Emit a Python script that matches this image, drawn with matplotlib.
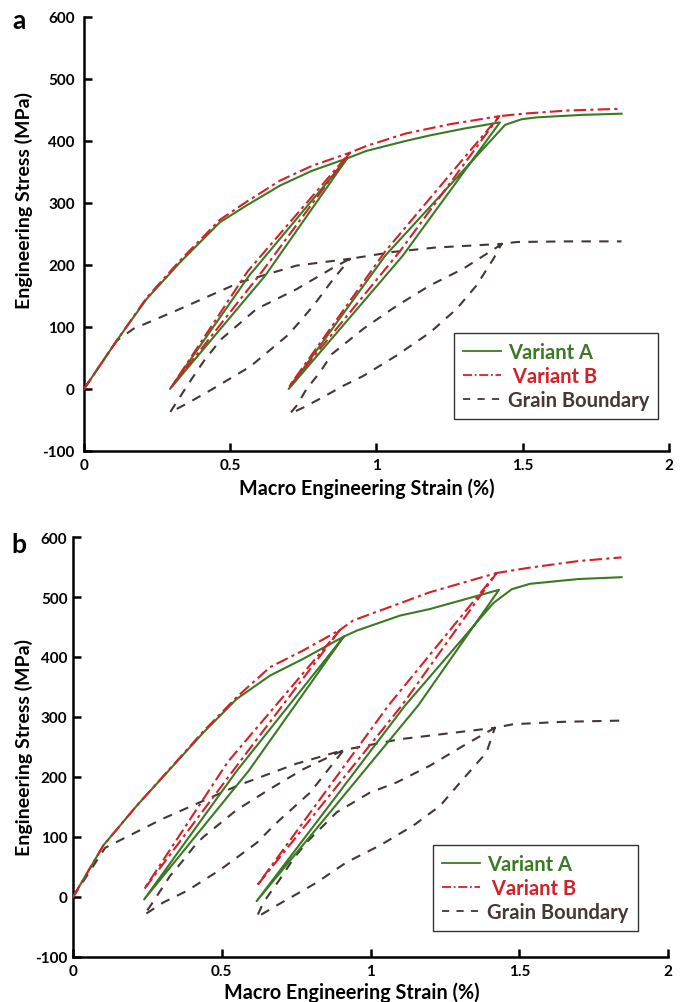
import numpy as np
import matplotlib
matplotlib.use('Agg')
import matplotlib.pyplot as plt
from matplotlib.lines import Line2D

plt.rcParams['font.family'] = ['Lato', 'DejaVu Sans']
plt.rcParams['font.weight'] = 'bold'
plt.rcParams['axes.unicode_minus'] = False

GREEN = '#3a7a22'
RED = '#d42027'
BROWN = '#453733'

# ---------- panel a (strain %, stress MPa) ----------
a_A_x = [0, 0.112, 0.214, 0.328, 0.465, 0.556, 0.67, 0.78, 0.90,
         0.62, 0.294,
         0.565, 0.90,
         0.966, 1.10, 1.183, 1.30, 1.422,
         1.09, 0.70,
         1.03, 1.44,
         1.496, 1.547, 1.70, 1.838]
a_A_y = [0, 78, 145, 204, 269, 296, 328, 352, 372,
         183, 0,
         183, 372,
         384, 400, 409, 420, 430,
         215, 0,
         215, 426,
         435, 438, 442, 444]

a_B_x = [0, 0.112, 0.214, 0.328, 0.465, 0.556, 0.67, 0.78, 0.909,
         0.61, 0.30,
         0.56, 0.909,
         0.966, 1.10, 1.251, 1.42,
         1.08, 0.70,
         1.03, 1.42,
         1.502, 1.65, 1.838]
a_B_y = [0, 78, 147, 207, 273, 302, 336, 360, 381,
         190, 4,
         190, 381,
         392, 412, 427, 440,
         222, 3,
         222, 440,
         444, 449, 452]

a_GB_x = [0, 0.112, 0.169, 0.328, 0.533, 0.727, 0.91,
          0.852, 0.784, 0.70, 0.568, 0.44, 0.362, 0.294,
          0.328, 0.368, 0.414, 0.471, 0.59, 0.727, 0.85, 0.91,
          1.057, 1.20, 1.428,
          1.40, 1.342, 1.274, 1.183, 1.069, 0.955, 0.886, 0.818, 0.75, 0.704,
          0.727, 0.761, 0.807, 0.847, 0.955, 1.069, 1.183, 1.297, 1.41, 1.428,
          1.479, 1.65, 1.838]
a_GB_y = [0, 78, 97, 129, 172, 199, 210,
          177, 134, 88, 36, 0, -21, -38,
          -13, 16, 48, 81, 129, 161, 195, 210,
          221, 228, 234,
          210, 167, 129, 91, 54, 21, 5, -13, -30, -40,
          -27, 0, 27, 56, 97, 134, 167, 194, 228, 234,
          237, 238, 238]

# ---------- panel b ----------
b_A_x = [0, 0.102, 0.214, 0.326, 0.438, 0.55, 0.662, 0.774, 0.91,
         0.59, 0.239,
         0.55, 0.91,
         0.954, 1.099, 1.20, 1.432,
         1.16, 0.617,
         1.116, 1.413,
         1.475, 1.536, 1.70, 1.844]
b_A_y = [0, 86, 152, 213, 274, 330, 369, 397, 434,
         210, -4,
         210, 434,
         444, 469, 480, 512,
         319, -7,
         319, 490,
         513, 522, 530, 533]

b_B_x = [0, 0.102, 0.214, 0.326, 0.438, 0.55, 0.662, 0.774, 0.897,
         0.56, 0.239,
         0.52, 0.897,
         0.942, 1.20, 1.424,
         1.105, 0.617,
         1.06, 1.424,
         1.536, 1.70, 1.844]
b_B_y = [0, 86, 152, 214, 276, 333, 383, 411, 445,
         225, 13,
         225, 445,
         461, 508, 540,
         319, 18,
         319, 540,
         549, 560, 566]

b_GB_x = [0, 0.108, 0.30, 0.55, 0.75, 0.91,
          0.886, 0.797, 0.685, 0.617, 0.494, 0.382, 0.304, 0.239,
          0.264, 0.326, 0.365, 0.41, 0.438, 0.55, 0.662, 0.774, 0.91,
          1.099, 1.20, 1.418,
          1.39, 1.312, 1.234, 1.144, 1.032, 0.92, 0.819, 0.763, 0.685, 0.617,
          0.64, 0.696, 0.74, 0.785, 0.886, 0.998, 1.088, 1.20, 1.312, 1.418,
          1.48, 1.65, 1.844]
b_GB_y = [0, 82, 130, 185, 222, 245,
          230, 174, 124, 90, 45, 10, -9, -30,
          -12, 35, 58, 86, 100, 145, 180, 213, 245,
          263, 269, 282,
          241, 197, 152, 119, 86, 58, 24, 8, -14, -34,
          -9, 30, 63, 91, 141, 174, 191, 219, 252, 282,
          288, 292, 294]

labels = ['Variant A', ' Variant B', 'Grain Boundary']
xticks = [0, 0.5, 1, 1.5, 2]
xticklabels = ['0', '0.5', '1', '1.5', '2']
yticks = [-100, 0, 100, 200, 300, 400, 500, 600]

ls_A = '-'
ls_B = (0, (6, 2, 1.5, 2))
ls_GB = (0, (4.5, 4))

fig = plt.figure(figsize=(6.89, 10.03), dpi=100)
ax_a = fig.add_axes([0.1219, 0.5494, 0.849, 0.4327])
ax_b = fig.add_axes([0.1060, 0.0449, 0.8635, 0.4187])

# axes, data, panel tag position, legend anchor, ylabel coords, xlabel coords, ytick pad
panels = [
    (ax_a, a_A_x, a_A_y, a_B_x, a_B_y, a_GB_x, a_GB_y, 'a', (0.027, 0.979),
     (0.982, 0.074), (-0.087, 0.58), (0.484, -0.06), 6.5),
    (ax_b, b_A_x, b_A_y, b_B_x, b_B_y, b_GB_x, b_GB_y, 'b', (0.027, 0.457),
     (0.949, 0.062), (-0.067, 0.5), (0.469, -0.058), 4),
]

for (ax, ax_, ay_, bx_, by_, gx_, gy_, tag, tpos,
     lpos, ylc, xlc, ypad) in panels:
    ax.plot(gx_, gy_, color=BROWN, lw=1.5, linestyle=ls_GB, zorder=2)
    ax.plot(ax_, ay_, color=GREEN, lw=1.5, linestyle=ls_A, zorder=3)
    ax.plot(bx_, by_, color=RED, lw=1.5, linestyle=ls_B, zorder=4)
    ax.set_xlim(0, 2)
    ax.set_ylim(-100, 600)
    ax.set_xticks(xticks)
    ax.set_xticklabels(xticklabels)
    ax.set_yticks(yticks)
    ax.spines['top'].set_visible(False)
    ax.spines['right'].set_visible(False)
    for s in ['left', 'bottom']:
        ax.spines[s].set_linewidth(1.8)
    ax.tick_params(direction='in', length=6, width=1.8, labelsize=11)
    ax.tick_params(axis='x', pad=5)
    ax.tick_params(axis='y', pad=ypad)
    for t in ax.get_xticklabels() + ax.get_yticklabels():
        t.set_fontweight('bold')
    ax.set_xlabel('Macro Engineering Strain (%)', fontsize=14.2, fontweight='bold')
    ax.set_ylabel('Engineering Stress (MPa)', fontsize=14, fontweight='bold')
    ax.yaxis.set_label_coords(*ylc)
    ax.xaxis.set_label_coords(*xlc)
    fig.text(tpos[0], tpos[1], tag, fontsize=19, fontweight='bold',
             ha='center', va='center')

    handles = [Line2D([], [], color=GREEN, lw=1.3, linestyle=ls_A),
               Line2D([], [], color=RED, lw=1.3, linestyle=(0, (5, 1.5, 1, 1.5))),
               Line2D([], [], color=BROWN, lw=1.3, linestyle=(0, (4, 4)))]
    leg = ax.legend(handles, labels, loc='lower right', bbox_to_anchor=lpos,
                    fancybox=False, edgecolor='#333333', framealpha=1,
                    prop={'size': 14.5, 'weight': 'bold'}, handlelength=1.9,
                    handletextpad=0.35, labelspacing=0.2, borderpad=0.45,
                    borderaxespad=0)
    leg.get_frame().set_linewidth(1.0)
    for txt, c in zip(leg.get_texts(), [GREEN, RED, BROWN]):
        txt.set_color(c)

fig.savefig('out.png', dpi=100)
